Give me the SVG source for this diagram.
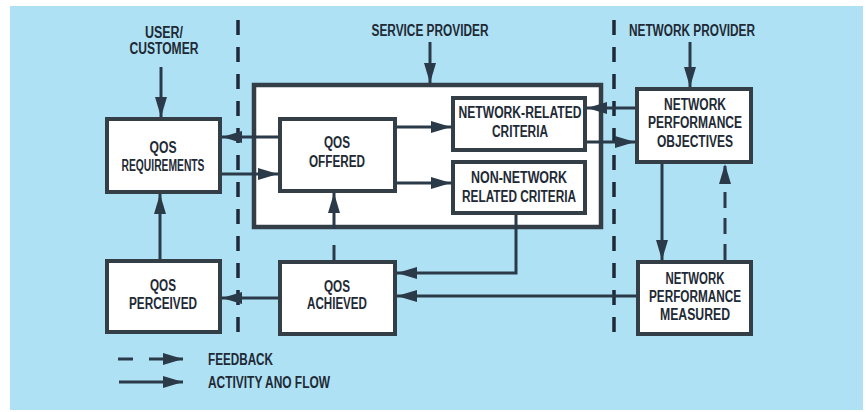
<svg xmlns="http://www.w3.org/2000/svg" width="866" height="412" viewBox="0 0 866 412">
<style>
.t{font-family:"Liberation Sans",Arial,sans-serif;font-weight:bold;font-size:16px;fill:#1e2a35;text-anchor:middle}
.tl{font-family:"Liberation Sans",Arial,sans-serif;font-weight:bold;font-size:16px;fill:#1e2a35;text-anchor:start}
.box{fill:#ffffff;stroke:#333e47;stroke-width:4}
.outer{fill:#ffffff;stroke:#333e47;stroke-width:4.5}
.ln{fill:none;stroke:#2b3a48;stroke-width:3}
.dl{fill:none;stroke:#1e2a38;stroke-width:3.5;stroke-dasharray:15 12}
.dash{fill:none;stroke:#2b3a48;stroke-width:3;stroke-dasharray:16 10}
</style>
<defs>
<marker id="ah" markerUnits="userSpaceOnUse" markerWidth="20" markerHeight="12" refX="20" refY="6" orient="auto">
<path d="M0,0 L20,6 L0,12 Z" fill="#2b3a48"/>
</marker>
</defs>
<rect x="0" y="0" width="866" height="412" fill="#ffffff"/>
<rect x="10" y="6" width="853" height="404" fill="#afe1f4"/>
<g id="separators">
<line class="dl" x1="238" y1="20" x2="238" y2="343"/>
<line class="dl" x1="614" y1="20" x2="614" y2="343"/>
</g>
<g id="labels">
<text class="t" x="164" y="38" textLength="38" lengthAdjust="spacingAndGlyphs">USER/</text>
<text class="t" x="164" y="54" textLength="69" lengthAdjust="spacingAndGlyphs">CUSTOMER</text>
<text class="t" x="430" y="36" textLength="117" lengthAdjust="spacingAndGlyphs">SERVICE PROVIDER</text>
<text class="t" x="692" y="36" textLength="126" lengthAdjust="spacingAndGlyphs">NETWORK PROVIDER</text>
</g>
<g id="service-provider">
<rect class="outer" x="254" y="85" width="347" height="142"/>
</g>
<g id="qos-requirements">
<rect class="box" x="107" y="119" width="113" height="73"/>
<text class="t" x="163" y="153" textLength="27" lengthAdjust="spacingAndGlyphs">QOS</text>
<text class="t" x="163" y="171" textLength="83" lengthAdjust="spacingAndGlyphs">REQUIREMENTS</text>
</g>
<g id="qos-offered">
<rect class="box" x="280" y="119" width="115" height="72"/>
<text class="t" x="337" y="148" textLength="26" lengthAdjust="spacingAndGlyphs">QOS</text>
<text class="t" x="337" y="167" textLength="56" lengthAdjust="spacingAndGlyphs">OFFERED</text>
</g>
<g id="network-related">
<rect class="box" x="453" y="98" width="132" height="52"/>
<text class="t" x="520" y="118" textLength="123" lengthAdjust="spacingAndGlyphs">NETWORK-RELATED</text>
<text class="t" x="520" y="137" textLength="56" lengthAdjust="spacingAndGlyphs">CRITERIA</text>
</g>
<g id="non-network">
<rect class="box" x="453" y="162" width="132" height="51"/>
<text class="t" x="519" y="183" textLength="96" lengthAdjust="spacingAndGlyphs">NON-NETWORK</text>
<text class="t" x="519" y="202" textLength="114" lengthAdjust="spacingAndGlyphs">RELATED CRITERIA</text>
</g>
<g id="npo">
<rect class="box" x="637" y="89" width="114" height="73"/>
<text class="t" x="695" y="110" textLength="62" lengthAdjust="spacingAndGlyphs">NETWORK</text>
<text class="t" x="695" y="128" textLength="94" lengthAdjust="spacingAndGlyphs">PERFORMANCE</text>
<text class="t" x="695" y="147" textLength="76" lengthAdjust="spacingAndGlyphs">OBJECTIVES</text>
</g>
<g id="npm">
<rect class="box" x="638" y="262" width="113" height="72"/>
<text class="t" x="695" y="284" textLength="59" lengthAdjust="spacingAndGlyphs">NETWORK</text>
<text class="t" x="695" y="302" textLength="92" lengthAdjust="spacingAndGlyphs">PERFORMANCE</text>
<text class="t" x="695" y="320" textLength="70" lengthAdjust="spacingAndGlyphs">MEASURED</text>
</g>
<g id="qos-achieved">
<rect class="box" x="280" y="262" width="115" height="72"/>
<text class="t" x="337" y="292" textLength="26" lengthAdjust="spacingAndGlyphs">QOS</text>
<text class="t" x="337" y="309" textLength="60" lengthAdjust="spacingAndGlyphs">ACHIEVED</text>
</g>
<g id="qos-perceived">
<rect class="box" x="107" y="261" width="113" height="71"/>
<text class="t" x="163" y="291" textLength="26" lengthAdjust="spacingAndGlyphs">QOS</text>
<text class="t" x="163" y="309" textLength="68" lengthAdjust="spacingAndGlyphs">PERCEIVED</text>
</g>
<g id="connectors">
<line class="ln" x1="161" y1="67" x2="161" y2="117" marker-end="url(#ah)"/>
<line class="ln" x1="430" y1="42" x2="430" y2="83" marker-end="url(#ah)"/>
<line class="ln" x1="690" y1="42" x2="690" y2="87" marker-end="url(#ah)"/>
<line class="ln" x1="278" y1="137" x2="222" y2="137" marker-end="url(#ah)"/>
<line class="ln" x1="222" y1="174" x2="278" y2="174" marker-end="url(#ah)"/>
<line class="ln" x1="397" y1="127" x2="451" y2="127" marker-end="url(#ah)"/>
<line class="ln" x1="397" y1="183" x2="451" y2="183" marker-end="url(#ah)"/>
<line class="ln" x1="635" y1="108" x2="587" y2="108" marker-end="url(#ah)"/>
<line class="ln" x1="587" y1="142" x2="635" y2="142" marker-end="url(#ah)"/>
<line class="ln" x1="662" y1="164" x2="662" y2="260" marker-end="url(#ah)"/>
<line class="dash" x1="725" y1="260" x2="725" y2="164" marker-end="url(#ah)"/>
<line class="ln" x1="636" y1="296" x2="397" y2="296" marker-end="url(#ah)"/>
<polyline class="ln" points="516,215 516,273 397,273" marker-end="url(#ah)"/>
<line class="ln" x1="334" y1="260" x2="334" y2="245"/>
<line class="ln" x1="334" y1="229" x2="334" y2="193" marker-end="url(#ah)"/>
<line class="ln" x1="278" y1="298" x2="222" y2="298" marker-end="url(#ah)"/>
<line class="ln" x1="160" y1="259" x2="160" y2="194" marker-end="url(#ah)"/>
</g>
<g id="legend">
<line class="ln" x1="118" y1="359" x2="133" y2="359"/>
<line class="ln" x1="149" y1="359" x2="183" y2="359" marker-end="url(#ah)"/>
<line class="ln" x1="119" y1="382" x2="183" y2="382" marker-end="url(#ah)"/>
<text class="tl" x="208" y="365" textLength="65" lengthAdjust="spacingAndGlyphs">FEEDBACK</text>
<text class="tl" x="208" y="388" textLength="122" lengthAdjust="spacingAndGlyphs">ACTIVITY ANO FLOW</text>
</g>
</svg>
